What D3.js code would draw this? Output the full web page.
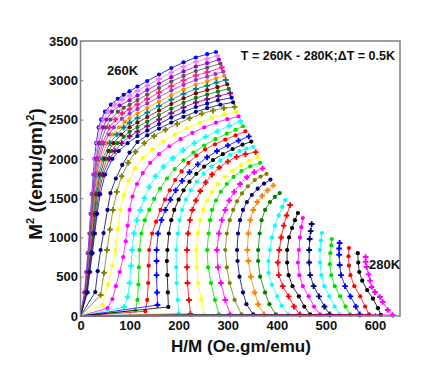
<!DOCTYPE html>
<html lang="en">
<head>
<meta charset="UTF-8">
<title>Arrott plot 260K - 280K</title>
<script src="https://d3js.org/d3.v7.min.js"></script>
<style>
  body { margin: 0; background: #fff; }
  svg { display: block; font-family: Arial, 'Liberation Sans', sans-serif; }
  .tick text { font-size: 13px; font-weight: bold; fill: #111; }
  .tick line { stroke: #808080; }
  .domain { display: none; }
  .axis-title { font-weight: bold; fill: #111; }
  .note { font-size: 13px; font-weight: bold; fill: #111; }
</style>
</head>
<body>
<div id="chart"></div>
<script>
// isotherm temperatures (K), one curve each
const temperatures = [260, 260.5, 261, 261.5, 262, 262.5, 263, 263.5, 264, 264.5, 265, 265.5, 266, 266.5,
  267, 267.5, 268, 268.5, 269, 269.5, 270, 270.5, 271, 271.5, 272, 272.5, 273, 273.5, 274, 274.5,
  275, 275.5, 276, 276.5, 277, 277.5, 278, 278.5, 279, 279.5, 280];

const curveColors = ["#0000ff", "#ee82ee", "#9400d3", "#555555", "#ff1493", "#9932cc", "#ff8c00", "#008080",
  "#800000", "#008000", "#800080", "#0000a0", "#000080", "#808000", "#ffff00", "#ff00ff", "#00ffff",
  "#00e000", "#ff0000", "#0000ff", "#000000", "#00ffff", "#ff0000", "#ffff00", "#00e000", "#ff00ff",
  "#808000", "#000080", "#ff8000", "#008000", "#00ffff", "#ff0000", "#000000", "#ff00ff", "#000080",
  "#00ffff", "#00e000", "#0000ff", "#ff0000", "#000000", "#ff00ff"];

const xTicks = [0, 100, 200, 300, 400, 500, 600];
const yTicks = [0, 500, 1000, 1500, 2000, 2500, 3000, 3500];

// [H/M, M^2] points, one array per temperature
const isotherms = [
  [[0,0],[8,300],[12,560],[15,800],[18,1050],[20.5,1300],[23,1550],[26,1800],[28.5,2000],[32,2200],[37,2400],[42,2500],[50,2600],[62,2690],[76,2765],[88,2815],[100,2860],[116,2920],[136,2990],[160,3073],[185,3155],[210,3228],[235,3290],[258,3332],[276,3360]],
  [[0,0],[8.5,300],[12.5,560],[16,800],[19,1050],[21.5,1300],[24,1550],[27,1800],[30,2000],[34.5,2200],[41,2400],[47,2500],[56,2600],[70,2690],[85,2755],[100,2803],[116,2863],[136,2933],[160,3016],[185,3098],[210,3171],[235,3233],[258,3275],[279,3312]],
  [[0,0],[9,300],[13,560],[16.5,800],[19.5,1050],[22.5,1300],[25,1550],[28.5,1800],[32,2000],[37.5,2200],[46,2400],[53,2500],[64,2600],[80,2680],[100,2745],[116,2805],[136,2875],[160,2958],[185,3040],[210,3113],[235,3175],[258,3217],[282,3263]],
  [[0,0],[9.5,300],[13.5,560],[17,800],[20.5,1050],[23.5,1300],[26,1550],[30,1800],[34,2000],[41,2200],[52,2400],[61,2500],[76,2600],[88,2650],[100,2688],[116,2748],[136,2818],[160,2901],[185,2983],[210,3056],[235,3118],[258,3160],[285,3213]],
  [[0,0],[10,300],[14,560],[18,800],[21.5,1050],[24.5,1300],[27,1550],[31.5,1800],[36.5,2000],[45,2200],[59,2400],[71,2500],[85,2580],[100,2631],[116,2691],[136,2761],[160,2844],[185,2926],[210,2999],[235,3061],[258,3103],[288,3162]],
  [[0,0],[10.5,300],[15,560],[18.5,800],[22.5,1050],[25.5,1300],[28,1550],[33.5,1800],[39,2000],[49,2200],[58,2310],[68,2400],[84,2510],[100,2574],[116,2634],[136,2704],[160,2787],[185,2869],[210,2942],[235,3004],[258,3046],[275,3080],[291,3110]],
  [[0,0],[11,300],[15.5,560],[19.5,800],[23.5,1050],[26.5,1300],[29.5,1550],[35.5,1800],[42,2000],[54,2200],[65,2310],[78,2400],[90,2470],[100,2516],[116,2576],[136,2646],[160,2729],[185,2811],[210,2884],[235,2946],[258,2988],[276,3025],[293,3057]],
  [[0,0],[11.5,300],[16,560],[20,800],[24.5,1050],[27.5,1300],[31,1550],[37.5,1800],[45.5,2000],[60,2200],[74,2310],[88,2400],[100,2459],[116,2519],[136,2589],[160,2672],[185,2754],[210,2827],[235,2889],[258,2931],[277,2970],[296,3003]],
  [[0,0],[12,300],[16.5,560],[21,800],[25.5,1050],[29,1300],[32.5,1550],[40,1800],[49.5,2000],[57,2100],[67,2200],[83,2310],[100,2402],[116,2462],[136,2532],[160,2615],[185,2697],[210,2770],[235,2832],[258,2874],[279,2912],[299,2948]],
  [[0,0],[12.5,300],[17,560],[22,800],[26.5,1050],[30.5,1300],[34.5,1550],[43,1800],[54,2000],[63,2100],[75,2200],[88,2280],[100,2345],[116,2405],[136,2475],[160,2558],[185,2640],[210,2713],[235,2775],[258,2817],[280,2858],[302,2892]],
  [[0,0],[13,300],[18,560],[23,800],[27.5,1050],[32,1300],[37,1550],[46,1800],[59,2000],[70,2100],[84,2200],[100,2287],[116,2347],[136,2417],[160,2500],[185,2582],[210,2655],[235,2717],[258,2759],[281,2800],[305,2835]],
  [[0,0],[14,300],[19,560],[24,800],[29,1050],[34,1300],[40,1550],[50,1800],[65,2000],[78,2100],[96,2200],[116,2290],[136,2360],[160,2443],[185,2525],[210,2598],[235,2660],[258,2702],[280,2745],[308,2778]],
  [[0,0],[30,305],[35,570],[41,840],[47,1056],[55,1350],[61,1565],[72,1750],[85,1922],[100,2080],[116,2214],[136,2300],[160,2385],[185,2462],[210,2535],[235,2598],[258,2645],[285,2690],[311,2720]],
  [[0,0],[41,267],[48,550],[54,840],[60,1100],[66,1350],[74,1580],[84,1780],[97,1950],[112,2090],[130,2200],[150,2290],[173,2370],[197,2445],[222,2515],[247,2575],[270,2615],[292,2645],[314,2661]],
  [[0,0],[45,140],[56,400],[65,640],[71,840],[76,1100],[81,1350],[88,1540],[98,1720],[111,1880],[127,2010],[146,2120],[168,2220],[192,2310],[217,2390],[243,2460],[268,2520],[293,2565],[318,2601]],
  [[0,0],[55,100],[65,216],[72,380],[80,560],[87,750],[92,950],[96,1150],[100,1350],[106,1520],[115,1680],[127,1820],[142,1950],[160,2060],[181,2160],[204,2250],[228,2330],[252,2400],[276,2460],[299,2505],[322,2540]],
  [[0,0],[89,115],[96,240],[100,420],[103,640],[105,840],[109,1050],[115,1220],[122,1350],[130,1500],[140,1640],[153,1780],[169,1900],[188,2010],[209,2110],[232,2200],[255,2280],[279,2350],[303,2420],[326,2478]],
  [[0,0],[112,70],[116,204],[118,400],[119,620],[120,840],[124,1050],[131,1220],[140,1350],[150,1490],[162,1620],[176,1750],[192,1870],[210,1980],[230,2080],[252,2170],[275,2250],[298,2320],[316,2370],[331,2415]],
  [[0,0],[132,60],[136,204],[138,420],[139,640],[140,840],[146,1050],[154,1200],[163,1350],[172,1480],[182,1600],[193,1731],[206,1840],[220,1950],[236,2040],[254,2120],[274,2185],[295,2245],[316,2300],[336,2351]],
  [[0,0],[157,140],[156,300],[155,520],[155,700],[155,840],[158,1050],[165,1220],[173,1350],[183,1480],[194,1600],[207,1720],[222,1830],[239,1930],[258,2020],[278,2100],[300,2170],[322,2232],[343,2286]],
  [[0,0],[179,115],[178,300],[177,520],[176,700],[177,840],[180,1050],[185,1220],[191,1350],[200,1480],[210,1600],[222,1710],[236,1810],[252,1900],[270,1985],[290,2060],[310,2125],[330,2180],[348,2220]],
  [[0,0],[200,30],[198,204],[196,420],[195,620],[195,840],[198,1050],[202,1220],[207,1350],[215,1480],[225,1600],[237,1710],[251,1810],[267,1900],[285,1980],[305,2050],[324,2100],[338,2130],[352,2153]],
  [[0,0],[224,25],[221,204],[218,420],[217,620],[217,840],[219,1050],[223,1220],[228,1350],[235,1470],[244,1590],[255,1700],[268,1800],[283,1890],[300,1965],[318,2025],[336,2060],[357,2086]],
  [[0,0],[252,20],[246,204],[240,420],[237,620],[236,840],[239,1050],[244,1220],[250,1350],[258,1470],[268,1580],[280,1680],[294,1770],[310,1850],[327,1920],[344,1975],[362,2018]],
  [[0,0],[282,20],[274,204],[266,420],[260,620],[258,840],[261,1050],[264,1220],[268,1350],[276,1470],[286,1580],[298,1680],[312,1770],[328,1845],[346,1905],[366,1949]],
  [[0,0],[305,20],[295,204],[286,420],[280,620],[278,840],[282,1050],[288,1220],[295,1350],[303,1470],[313,1580],[325,1680],[339,1765],[354,1830],[371,1879]],
  [[0,0],[328,20],[314,204],[304,420],[298,620],[295,840],[298,1050],[304,1220],[311,1350],[319,1460],[329,1560],[341,1650],[355,1730],[367,1775],[379,1808]],
  [[0,0],[352,20],[338,150],[331,300],[324,500],[320,700],[319,840],[321,1050],[325,1220],[331,1350],[339,1450],[349,1540],[361,1620],[374,1685],[387,1736]],
  [[0,0],[374,20],[362,150],[355,300],[347,500],[342,700],[340,840],[342,1050],[346,1220],[352,1350],[360,1450],[370,1530],[381,1600],[393,1663]],
  [[0,0],[398,20],[385,150],[376,300],[366,500],[362,700],[362,840],[365,1050],[369,1220],[376,1350],[386,1450],[396,1515],[406,1565]],
  [[0,0],[423,20],[410,130],[401,250],[390,400],[383,550],[383,700],[386,840],[390,1000],[396,1150],[404,1280],[411,1390],[417,1476]],
  [[0,0],[447,20],[435,120],[424,250],[412,380],[404,520],[402,680],[405,840],[409,1000],[414,1150],[420,1280],[427,1413]],
  [[0,0],[468,20],[456,120],[445,250],[432,380],[424,520],[421,680],[421,840],[425,1000],[431,1120],[437,1220],[443,1311]],
  [[0,0],[488,20],[476,120],[465,250],[453,380],[446,520],[443,680],[445,840],[447,1000],[450,1130],[453,1247]],
  [[0,0],[508,20],[497,120],[486,250],[475,380],[468,520],[466,680],[466,840],[467,980],[469,1080],[471,1170]],
  [[0,0],[528,20],[518,120],[507,250],[497,380],[491,520],[488,680],[488,840],[490,960],[492,1056]],
  [[0,0],[549,20],[540,120],[529,250],[518,380],[511,520],[508,660],[509,800],[511,900],[512,980]],
  [[0,0],[569,20],[561,120],[550,250],[539,380],[531,520],[528,650],[527,780],[527,860],[528,930]],
  [[0,0],[588,20],[580,120],[570,250],[558,380],[550,520],[547,640],[546,760],[547,865]],
  [[0,0],[612,15],[606,100],[596,220],[584,330],[574,450],[568,560],[566,680],[565,800]],
  [[0,0],[636,13],[626,76],[616,178],[610,242],[600,305],[593,369],[590,450],[587,530],[583,623],[581,690],[581,750]]
];

const width = 436, height = 382;
const plot = { left: 80.5, right: 400, top: 41, bottom: 316 };

const svg = d3.select("#chart").append("svg")
  .attr("width", width)
  .attr("height", height);

const x = d3.scaleLinear().domain([0, 651]).range([plot.left, plot.right]);
const y = d3.scaleLinear().domain([0, 3500]).range([plot.bottom, plot.top]);

// axes, ticks pointing inward, plain integer labels
svg.append("g")
  .attr("transform", `translate(0,${plot.bottom})`)
  .call(d3.axisBottom(x).tickValues(xTicks).tickFormat(d3.format("d")).tickSize(-3).tickPadding(5));
svg.append("g")
  .attr("transform", `translate(${plot.left},0)`)
  .call(d3.axisLeft(y).tickValues(yTicks).tickFormat(d3.format("d")).tickSize(-3).tickPadding(2.5));

// curves
const line = d3.line().x(d => x(d[0])).y(d => y(d[1]));
const curves = svg.append("g");
isotherms.forEach((pts, i) => {
  const c = curveColors[i];
  const g = curves.append("g").attr("class", "iso").attr("data-t", temperatures[i]);
  g.append("path")
    .attr("d", line(pts))
    .attr("fill", "none")
    .attr("stroke", c)
    .attr("stroke-width", 0.8);
  const sym = d3.symbol().type(i % 3 === 1 ? d3.symbolCross : d3.symbolCircle).size(i % 3 === 1 ? 18 : 14);
  g.selectAll("path.pt")
    .data(pts.slice(1))
    .join("path")
    .attr("class", "pt")
    .attr("transform", d => `translate(${x(d[0])},${y(d[1])})`)
    .attr("d", sym)
    .attr("fill", c);
});

// frame
svg.append("rect")
  .attr("x", plot.left).attr("y", plot.top)
  .attr("width", plot.right - plot.left).attr("height", plot.bottom - plot.top)
  .attr("fill", "none").attr("stroke", "#808080").attr("stroke-width", 1.5);

// axis titles
svg.append("text")
  .attr("class", "axis-title")
  .attr("x", 241).attr("y", 352)
  .attr("text-anchor", "middle")
  .style("font-size", "17px")
  .text("H/M (Oe.gm/emu)");

const yTitle = svg.append("text")
  .attr("class", "axis-title")
  .attr("transform", "translate(42,174) rotate(-90)")
  .attr("text-anchor", "middle")
  .style("font-size", "19px");
yTitle.append("tspan").text("M");
yTitle.append("tspan").attr("dy", -8).style("font-size", "11px").text("2");
yTitle.append("tspan").attr("dy", 8).text(" ((emu/gm)");
yTitle.append("tspan").attr("dy", -8).style("font-size", "11px").text("2");
yTitle.append("tspan").attr("dy", 8).text(")");

// annotations
svg.append("text").attr("class", "note").attr("x", 395).attr("y", 60)
  .attr("text-anchor", "end").style("font-size", "12.5px")
  .text("T = 260K - 280K;\u0394T = 0.5K");
svg.append("text").attr("class", "note").attr("x", 107).attr("y", 75).text("260K");
svg.append("text").attr("class", "note").attr("x", 369).attr("y", 269).text("280K");
</script>
</body>
</html>
